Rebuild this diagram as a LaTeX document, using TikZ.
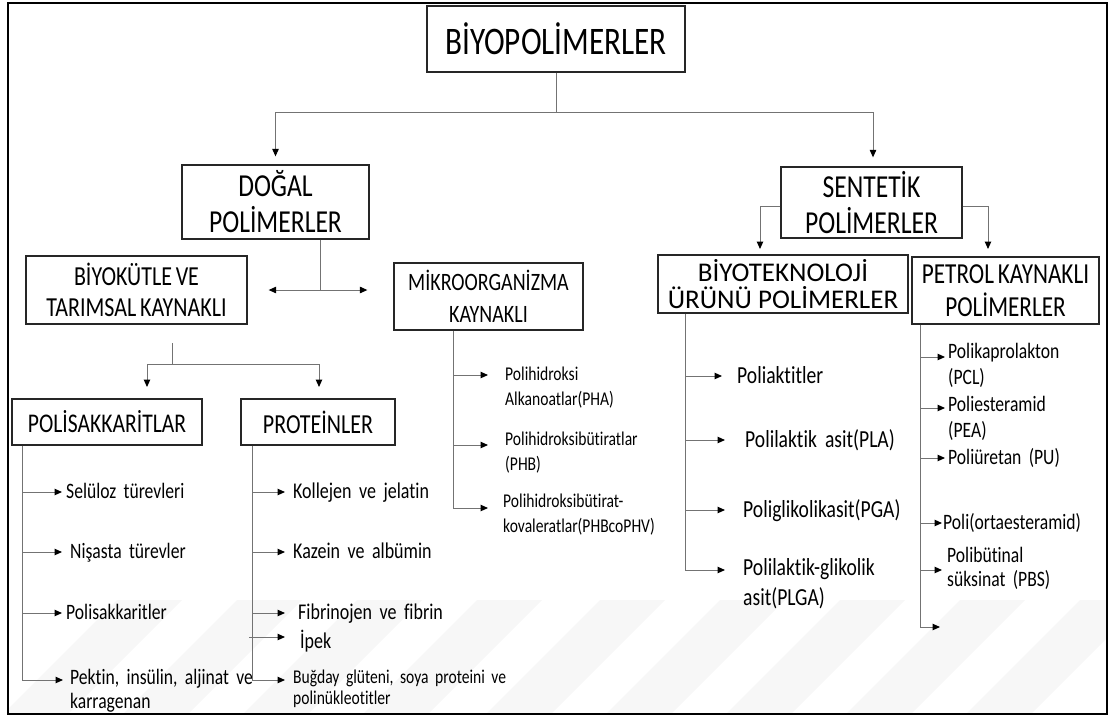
\documentclass[tikz,border=0pt]{standalone}
\usepackage{fontspec}
\setmainfont{Carlito}[FakeStretch=0.8, WordSpace=0.75, Ligatures=NoCommon]
\newfontfamily\wideff{Carlito}[Ligatures=NoCommon]
\usetikzlibrary{arrows.meta}
\newcommand{\fs}[2]{\fontsize{#1}{#2}\selectfont}
\begin{document}
\begin{tikzpicture}[x=1pt,y=-1pt,
  box/.style={draw=black!85, line width=1.3pt, align=center, inner sep=0pt, anchor=center},
  item/.style={anchor=base west, align=left, inner sep=0pt, text width=260pt},
  ln/.style={draw=black!55, line width=1pt},
  arr/.style={ln, -{Triangle[length=7.5pt,width=6.5pt,color=black]}},
  darr/.style={ln, {Triangle[length=7.5pt,width=6.5pt,color=black]}-{Triangle[length=7.5pt,width=6.5pt,color=black]}},
  band/.style={fill=black!3, draw=none},
]
\useasboundingbox (0,0) rectangle (1115,720);

% ---- faint watermark bands ----
\begin{scope}
\clip (9,560) rectangle (1106,713);
\foreach \x in {117,237,357,477,600,720,840,960,1080}
  \fill[band] (\x,600) -- (\x+65,600) -- (\x-50,715) -- (\x-115,715) -- cycle;
\end{scope}

\draw[line width=2.5pt] (8,3) rectangle (1107,714);

% ---- boxes ----
\node[box, minimum width=258pt, minimum height=66pt, font=\fs{39}{44}] (title) at (556,39) {BİYOPOLİMERLER};
\node[box, minimum width=187pt, minimum height=74pt, font=\fs{32}{36}] (dogal) at (275.5,202) {DOĞAL\\POLİMERLER};
\node[box, minimum width=181pt, minimum height=71pt, font=\fs{32}{36}] (sent) at (871.5,202.5) {SENTETİK\\POLİMERLER};
\node[box, minimum width=221pt, minimum height=68pt, font=\fs{27.5}{31}] (biyo) at (136.5,290) {BİYOKÜTLE VE\\TARIMSAL KAYNAKLI};
\node[box, minimum width=189pt, minimum height=67pt, font=\fs{25}{32}] (mikro) at (488.5,296.5) {MİKROORGANİZMA\\KAYNAKLI};
\node[box, minimum width=250pt, minimum height=58pt, font=\wideff\fs{27}{27}] (btek) at (783,284) {BİYOTEKNOLOJİ\\ÜRÜNÜ POLİMERLER};
\node[box, minimum width=187pt, minimum height=67pt, font=\fs{29}{33}] (petrol) at (1005.5,290.5) {PETROL KAYNAKLI\\POLİMERLER};
\node[box, minimum width=190pt, minimum height=46pt, font=\fs{27}{30}] (polis) at (107,422) {POLİSAKKARİTLAR};
\node[box, minimum width=154pt, minimum height=46pt, font=\fs{27.5}{30}] (prot) at (318,422) {PROTEİNLER};

% ---- top level connectors ----
\coordinate (tj) at (556,112);
\draw[ln] (title.south) -- (tj);
\draw[arr] (tj) -| ([yshift=8pt]dogal.north);
\coordinate (sx) at (873,0);
\draw[arr] (tj) -| ([yshift=9pt]sent.north -| sx);

% ---- sentetik branches ----
\coordinate (bta) at (760,249);
\coordinate (pta) at (988,249);
\draw[arr] ([yshift=-4pt]sent.west) -| (bta);
\draw[arr] ([yshift=-4pt]sent.east) -| (pta);

% ---- dogal branches ----
\coordinate (dx) at (320,0);
\draw[ln] (dogal.south -| dx) -- (biyo.east -| dx);
\draw[darr, shorten <=21pt, shorten >=26pt] (biyo.east) -- (mikro.west |- biyo.east);

% ---- biyokutle branches ----
\coordinate (bjt) at (172,343);
\coordinate (bj) at (172,364);
\coordinate (pa) at (147,387);
\coordinate (qa) at (319,387);
\draw[ln] (bjt) -- (bj);
\draw[arr] (bj) -| (pa);
\draw[arr] (bj) -| (qa);

% ---- polisakkaritler items ----
\coordinate (cpx) at (22,0);
\coordinate (s1a) at (62,492);
\coordinate (s2a) at (62,552);
\coordinate (s3a) at (62,613);
\coordinate (s4a) at (63,680);
\draw[ln] (polis.south -| cpx) -- (cpx |- s4a);
\foreach \k in {s1a,s2a,s3a,s4a} \draw[arr] (cpx |- \k) -- (\k);
\node[item, font=\fs{22}{24}] (s1) at (66,498.6) {Selüloz türevleri};
\node[item, font=\fs{22}{24}] (s2) at (70,558.6) {Nişasta türevler};
\node[item, font=\fs{22}{24}] (s3) at (66,619.6) {Polisakkaritler};
\node[item, font=\fs{22}{24}] (s4) at (70,684.6) {Pektin, insülin, aljinat ve\\karragenan};

% ---- proteinler items ----
\coordinate (cqx) at (252,0);
\coordinate (p1a) at (285,492);
\coordinate (p2a) at (285,552);
\coordinate (p3a) at (285,613);
\coordinate (p4a) at (285,637);
\coordinate (p5a) at (285,680);
\draw[ln] (prot.south -| cqx) -- (cqx |- p5a);
\foreach \k in {p1a,p2a,p3a,p5a} \draw[arr] (cqx |- \k) -- (\k);
\draw[arr] ([xshift=-3pt]cqx |- p4a) -- (p4a);
\node[item, font=\fs{22.5}{24}] (p1) at (293,498.75) {Kollejen ve jelatin};
\node[item, font=\fs{22.5}{24}] (p2) at (293,558.75) {Kazein ve albümin};
\node[item, font=\fs{22.5}{24}] (p3) at (298,619.75) {Fibrinojen ve fibrin};
\node[item, font=\fs{22.5}{24}] (p4) at (300,648) {İpek};
\node[item, font=\fs{19.5}{21}] (p5) at (293,683) {Buğday glüteni, soya proteini ve\\polinükleotitler};

% ---- mikroorganizma items ----
\coordinate (cmx) at (453,0);
\coordinate (m1a) at (488,375);
\coordinate (m2a) at (488,445);
\coordinate (m3a) at (488,508);
\draw[ln] (mikro.south -| cmx) -- (cmx |- m3a);
\foreach \k in {m1a,m2a,m3a} \draw[arr] (cmx |- \k) -- (\k);
\node[item, font=\fs{19.5}{25}] (m1) at (505,380.85) {Polihidroksi\\Alkanoatlar(PHA)};
\node[item, font=\fs{19.5}{25}] (m2) at (505,445.85) {Polihidroksibütiratlar\\(PHB)};
\node[item, font=\fs{19.5}{25}] (m3) at (503,507.85) {Polihidroksibütirat-\\kovaleratlar(PHBcoPHV)};

% ---- biyoteknoloji items ----
\coordinate (cbx) at (685,0);
\coordinate (b1a) at (722,376);
\coordinate (b2a) at (725,440);
\coordinate (b3a) at (725,510);
\coordinate (b4a) at (725,570);
\draw[ln] (btek.south -| cbx) -- (cbx |- b4a);
\foreach \k in {b1a,b2a,b3a,b4a} \draw[arr] (cbx |- \k) -- (\k);
\node[item, font=\fs{24.5}{30}] (b1) at (737,383.35) {Poliaktitler};
\node[item, font=\fs{24.5}{30}] (b2) at (745,447.35) {Polilaktik asit(PLA)};
\node[item, font=\fs{24.5}{30}] (b3) at (743,517.35) {Poliglikolikasit(PGA)};
\node[item, font=\fs{24.5}{30}] (b4) at (743,575.35) {Polilaktik-glikolik\\asit(PLGA)};

% ---- petrol items ----
\coordinate (crx) at (920,0);
\coordinate (r1a) at (945,357);
\coordinate (r2a) at (945,408);
\coordinate (r3a) at (945,458);
\coordinate (r4a) at (942,523);
\coordinate (r5a) at (942,570);
\coordinate (r6a) at (940,627);
\draw[ln] (petrol.south -| crx) -- (crx |- r6a);
\foreach \k in {r1a,r2a,r3a,r4a,r5a,r6a} \draw[arr] (crx |- \k) -- (\k);
\node[item, font=\fs{22}{26}] (r1) at (948,358.6) {Polikaprolakton\\(PCL)};
\node[item, font=\fs{22}{26}] (r2) at (948,411.6) {Poliesteramid\\(PEA)};
\node[item, font=\fs{22}{26}] (r3) at (948,464.6) {Poliüretan (PU)};
\node[item, font=\fs{22}{26}] (r4) at (943,529.6) {Poli(ortaesteramid)};
\node[item, font=\fs{22}{24}] (r5) at (947,562.6) {Polibütinal\\süksinat (PBS)};
\end{tikzpicture}
\end{document}
